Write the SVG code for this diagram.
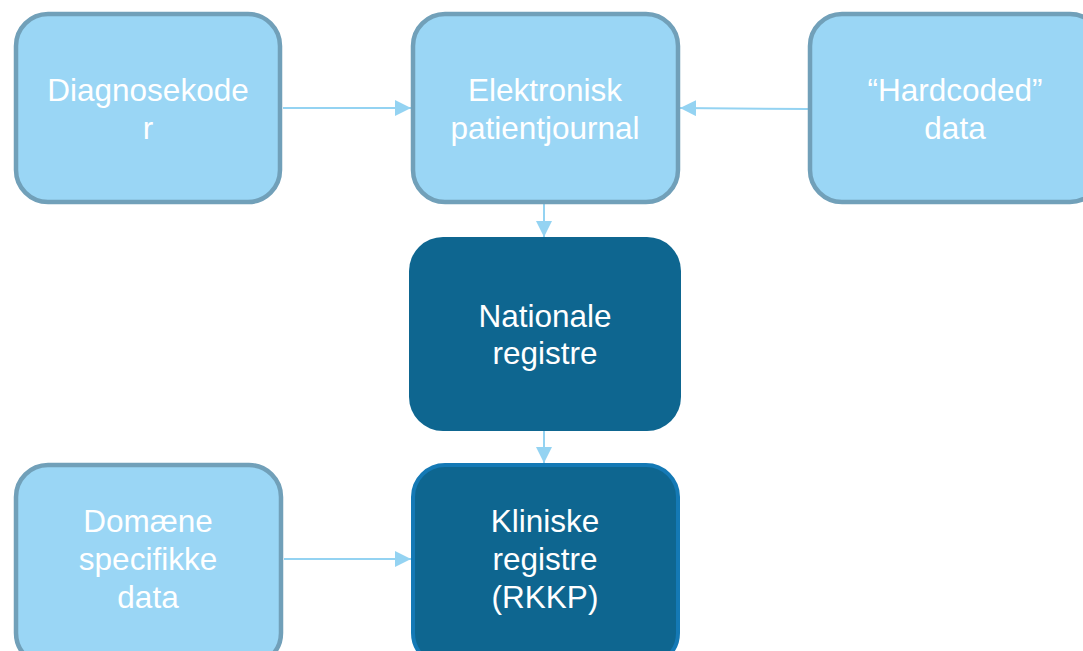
<svg xmlns="http://www.w3.org/2000/svg" width="1083" height="651" viewBox="0 0 1083 651">
<style>
.light rect{fill:#9AD6F5;stroke:#71A0B9;stroke-width:4.5}
.dark rect{fill:#0E6690}
.t{font-family:"Liberation Sans",Arial,sans-serif;font-size:31.5px;fill:#ffffff;text-anchor:middle}
.c{stroke:#94D3F2;stroke-width:2;fill:none}
</style>
<defs>
<marker id="ah" markerUnits="userSpaceOnUse" markerWidth="17" markerHeight="16" refX="16" refY="8" orient="auto">
<path d="M0,0 L16,8 L0,16 Z" fill="#94D3F2"/>
</marker>
</defs>
<g id="connectors">
<line class="c" x1="283" y1="108" x2="411" y2="108" marker-end="url(#ah)"/>
<line class="c" x1="808" y1="109" x2="680" y2="108" marker-end="url(#ah)"/>
<line class="c" x1="544" y1="204" x2="544" y2="237" marker-end="url(#ah)"/>
<line class="c" x1="544" y1="430" x2="544" y2="463" marker-end="url(#ah)"/>
<line class="c" x1="284" y1="559" x2="411" y2="559" marker-end="url(#ah)"/>
</g>
<g id="diagnosekoder" class="light">
<rect x="16" y="14" width="264" height="188" rx="32"/>
<text class="t" x="148" y="101">Diagnosekode</text>
<text class="t" x="148" y="139">r</text>
</g>
<g id="elektronisk" class="light">
<rect x="413" y="14" width="265" height="188" rx="32"/>
<text class="t" x="545" y="101">Elektronisk</text>
<text class="t" x="545" y="139">patientjournal</text>
</g>
<g id="hardcoded" class="light">
<rect x="810" y="14" width="292" height="188" rx="32"/>
<text class="t" x="955" y="101">“Hardcoded”</text>
<text class="t" x="955" y="139">data</text>
</g>
<g id="nationale" class="dark">
<rect x="409" y="237" width="272" height="194" rx="34"/>
<text class="t" x="545" y="327">Nationale</text>
<text class="t" x="545" y="364">registre</text>
</g>
<g id="kliniske" class="dark">
<rect x="413" y="465" width="265" height="200" rx="32" style="stroke:#1479B5;stroke-width:4"/>
<text class="t" x="545" y="532">Kliniske</text>
<text class="t" x="545" y="570">registre</text>
<text class="t" x="545" y="608">(RKKP)</text>
</g>
<g id="domaene" class="light">
<rect x="16" y="465" width="265" height="200" rx="32"/>
<text class="t" x="148" y="532">Domæne</text>
<text class="t" x="148" y="570">specifikke</text>
<text class="t" x="148" y="608">data</text>
</g>
</svg>
